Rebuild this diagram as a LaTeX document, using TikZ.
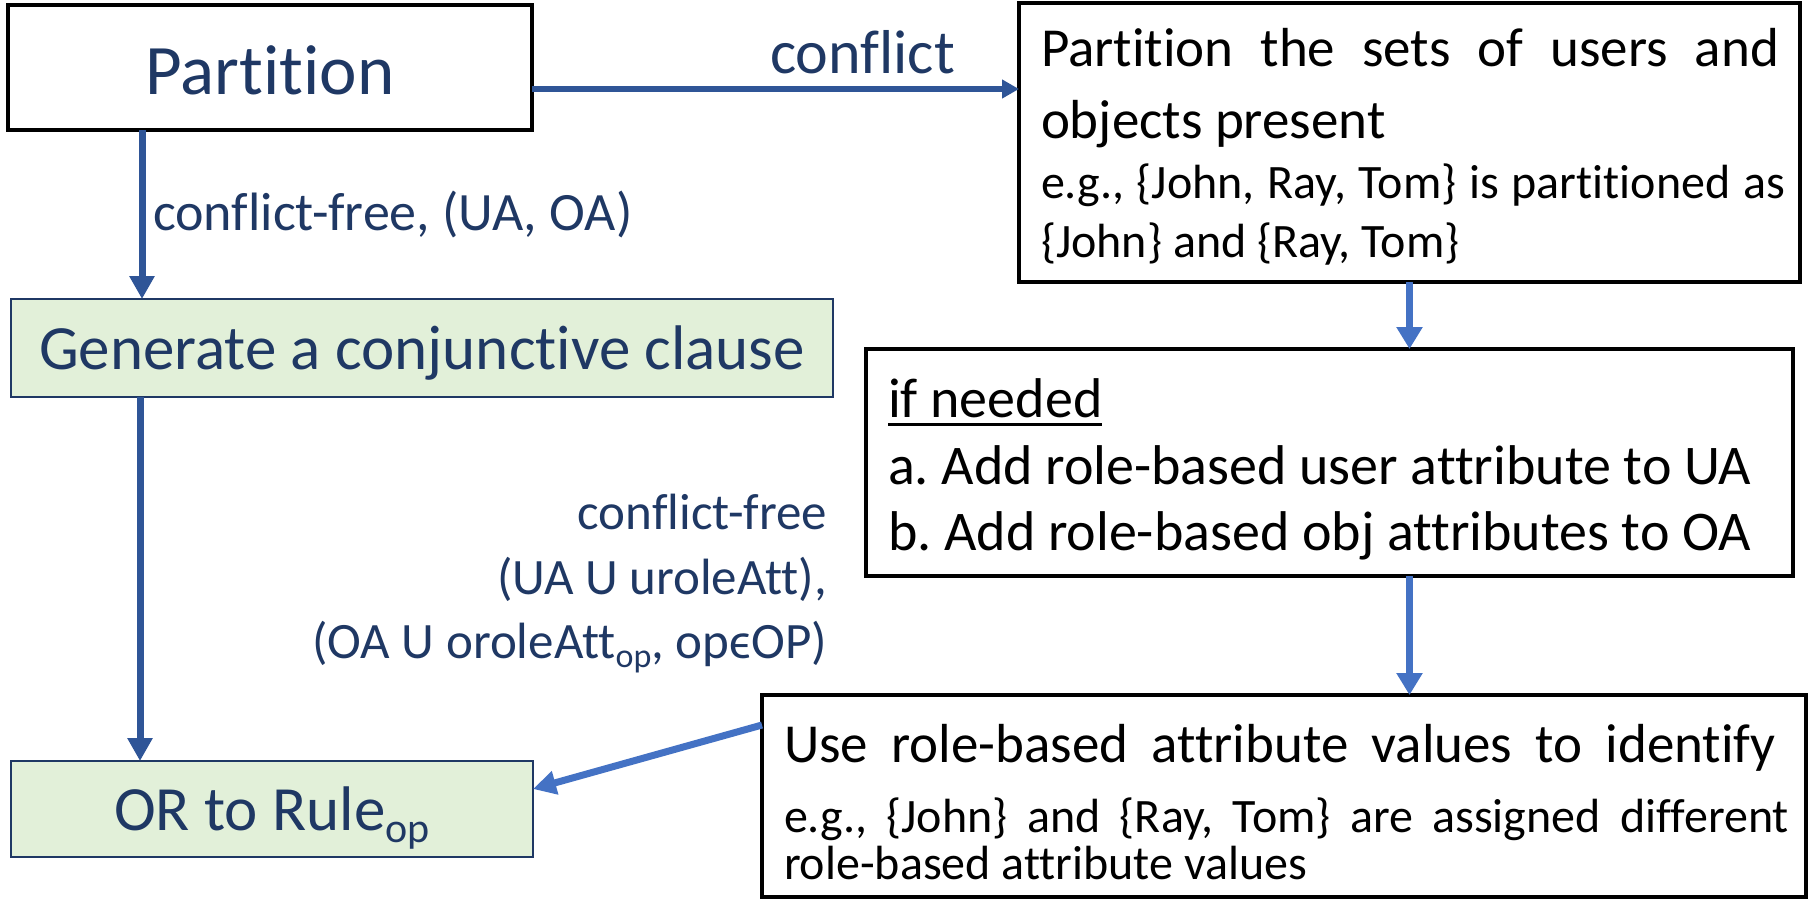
\documentclass[tikz,border=0pt]{standalone}
\usepackage{fontspec}
\setmainfont{Carlito}[Ligatures=NoCommon]
\newfontfamily\symfont{DejaVu Sans}
\usetikzlibrary{arrows.meta}
\frenchspacing
\definecolor{navy}{HTML}{1F3864}
\definecolor{darkarrow}{HTML}{2F5597}
\definecolor{lightarrow}{HTML}{4472C4}
\definecolor{greenfill}{HTML}{E2F0D9}
\newcommand{\fs}[1]{\fontsize{#1}{#1}\selectfont}
\newcommand{\epsch}{\iffontchar\font"03F5 ϵ\else{\symfont ϵ}\fi}
\tikzset{
  blackbox/.style={draw=black, line width=3.5pt, inner sep=0pt, outer sep=0pt, rectangle},
  greenbox/.style={draw=navy, fill=greenfill, line width=2.5pt, inner sep=0pt, outer sep=0pt, rectangle, text=navy},
  ln/.style={anchor=base west, inner sep=0pt, outer sep=0pt, text=black},
  lbl/.style={inner sep=0pt, outer sep=0pt, text=navy},
  darr/.style={draw=darkarrow, line width=7pt, -{Triangle[length=23pt,width=24pt]}},
  harr/.style={draw=darkarrow, line width=6pt, -{Triangle[length=17pt,width=18pt]}},
  larr/.style={draw=lightarrow, line width=7.5pt, -{Triangle[length=22pt,width=25pt]}},
  larrd/.style={draw=lightarrow, line width=7pt, -{Triangle[length=23pt,width=23pt]}},
}
\begin{document}
\begin{tikzpicture}[x=1pt, y=-1pt]
\path[use as bounding box] (0,0) rectangle (1812,902);

% boxes
\node[blackbox, minimum width=524pt, minimum height=125pt, text=navy, font=\fs{71}, text height=53pt, text depth=0pt] (part) at (270,67.5) {Partition};
\node[greenbox, minimum width=822pt, minimum height=98pt, font=\fs{63}, text height=42pt, text depth=0pt] (gen) at (422,348) {Generate a conjunctive clause};
\node[greenbox, minimum width=522pt, minimum height=96pt, font=\fs{63}, text height=42pt, text depth=0pt] (orb) at (272,809) {OR to Rule\raisebox{-12pt}{\fs{42}op}};
\node[blackbox, minimum width=781pt, minimum height=279pt] (b1) at (1409.5,142.5) {};
\node[blackbox, minimum width=927pt, minimum height=227pt] (b3) at (1329.5,462.5) {};
\node[blackbox, minimum width=1044pt, minimum height=202pt] (b4) at (1284,796) {};

% box 1 text
\node[ln, font=\fs{55}] (b1l1) at (1041,66) {\makebox[738pt][s]{Partition the sets of users and}};
\node[ln, font=\fs{55}] (b1l2) at (1041,138) {objects present};
\node[ln, font=\fs{48}] (b1l3) at (1041,198) {\makebox[744pt][s]{e.g., \{John, Ray, Tom\} is partitioned as}};
\node[ln, font=\fs{48}] (b1l4) at (1041,257) {\{John\} and \{Ray, Tom\}};

% box 3 text
\node[ln, font=\fs{56}] (b3l0) at (888,417) {if needed};
\draw[line width=3pt] ([yshift=-7pt]b3l0.base west) -- ([yshift=-7pt]b3l0.base east);
\node[ln, font=\fs{56}] (b3l1) at (888,484) {a. Add role-based user attribute to UA};
\node[ln, font=\fs{56}] (b3l2) at (888,550) {b. Add role-based obj attributes to OA};

% box 4 text
\node[ln, font=\fs{55}] (b4l1) at (784,762) {\makebox[992pt][s]{Use role-based attribute values to identify}};
\node[ln, font=\fs{48}] (b4l2) at (784,832) {\makebox[1005pt][s]{e.g., \{John\} and \{Ray, Tom\} are assigned different}};
\node[ln, font=\fs{48}] (b4l3) at (784,879) {role-based attribute values};

% labels
\node[lbl, anchor=base west, font=\fs{62}] (lconf) at (770,73) {conflict};
\node[lbl, anchor=base west, font=\fs{54}] (lcf) at (153,230) {conflict-free, (UA, OA)};
\node[lbl, anchor=base east, font=\fs{51}] (lcfa) at (827,529) {conflict-free};
\node[lbl, anchor=base east, font=\fs{51}] (lcfb) at (827,594) {(UA U uroleAtt),};
\node[lbl, anchor=base east, font=\fs{51}] (lcfc) at (827,658) {(OA U oroleAtt\raisebox{-9pt}{\fs{34}op}, op\epsch OP)};

% connectors
\coordinate (cy) at (0,89);
\draw[harr] (part.east |- cy) -- (b1.west |- cy);
\draw[darr] ([xshift=134pt]part.south west) -- ([xshift=131pt]gen.north west);
\draw[darr] ([xshift=129pt]gen.south west) -- ([xshift=129pt]orb.north west);
\draw[larr] (b1.south) -- (b1.south |- b3.north);
\draw[larr] (b1.south |- b3.south) -- (b1.south |- b4.north);
\draw[larrd] ([yshift=71pt]b4.west) -- ([yshift=20pt]orb.east);
\end{tikzpicture}
\end{document}
